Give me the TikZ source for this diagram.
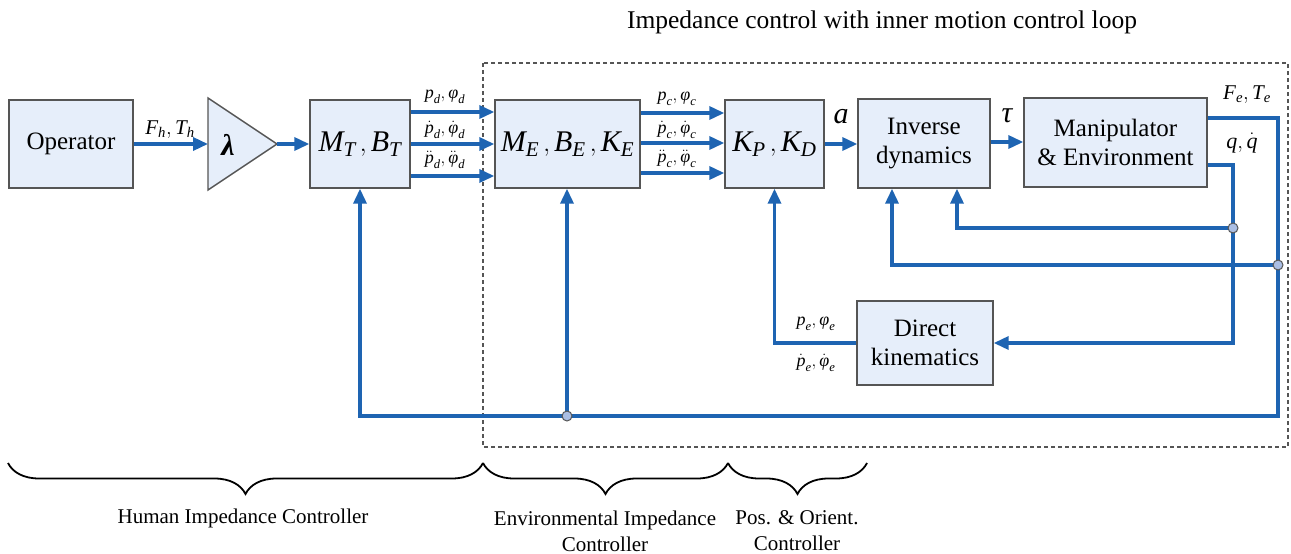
\documentclass[tikz,border=0pt]{standalone}
\usepackage{amsmath}
\usepackage{fontspec}
\setmainfont{Liberation Serif}
\setsansfont{Liberation Serif}
\newfontfamily\tnr{Liberation Serif}
\usetikzlibrary{arrows.meta,decorations.pathreplacing,calc}
\definecolor{wireblue}{RGB}{30,100,178}
\definecolor{boxfill}{RGB}{230,238,250}
\definecolor{boxline}{RGB}{85,85,85}
\definecolor{tapfill}{RGB}{170,190,228}
% italic letters taken from the text font inside math
\newcommand\mi[1]{\text{\tnr\itshape #1}}
\begin{document}
\begin{tikzpicture}[x=1pt,y=-1pt,
  blk/.style={draw=boxline,line width=1.4pt,fill=boxfill,inner sep=0pt,align=center,
    font=\tnr\fontsize{25}{29}\selectfont},
  fbl/.style={draw=wireblue,line width=3.4pt},
  flow/.style={fbl,-{Triangle[length=15pt,width=13pt]}},
  lbl/.style={inner sep=0pt,font=\tnr\fontsize{18}{22}\selectfont},
  big/.style={inner sep=0pt,font=\tnr\fontsize{30}{34}\selectfont},
  tap/.style={circle,draw=boxline,fill=tapfill,line width=1pt,minimum size=10pt,inner sep=0pt},
  brc/.style={draw=black,line width=1.8pt,decorate,decoration={brace,mirror,amplitude=31pt}},
  grouplbl/.style={inner sep=0pt,align=center,font=\tnr\fontsize{21}{26}\selectfont},
]
\useasboundingbox (0,0) rectangle (1291,554);

% title and the dashed frame of the impedance controller
\node[inner sep=0pt,font=\tnr\fontsize{25.5}{30}\selectfont] (title) at (882,22)
  {Impedance control with inner motion control loop};
\draw[draw=boxline,line width=1.5pt,dash pattern=on 4pt off 3pt] (483,63) rectangle (1288,447);

% blocks
\node[blk,minimum width=124pt,minimum height=88pt] (op) at (71,144) {Operator};
\draw[draw=boxline,line width=1.4pt,fill=boxfill] (208,98) -- (208,190) -- (277,144) -- cycle;
\coordinate (lamIn) at (208,144);
\coordinate (lamOut) at (277,144);
\node[big] (lam) at (228,145) {\bfseries\itshape λ};
\node[blk,minimum width=100pt,minimum height=88pt] (MT) at (360,144) {};
\node[big] (MTt) at (MT) {$\mi{M}_{\mi{T}}\,,\mi{B}_{\mi{T}}$};
\node[blk,minimum width=145pt,minimum height=88pt] (ME) at (567.5,144) {};
\node[big] (MEt) at (ME) {$\mi{M}_{\mi{E}}\,,\mi{B}_{\mi{E}}\,,\mi{K}_{\mi{E}}$};
\node[blk,minimum width=99pt,minimum height=88pt] (KP) at (774.5,144) {};
\node[big] (KPt) at (KP) {$\mi{K}_{\mi{P}}\,,\mi{K}_{\mi{D}}$};
\node[blk,minimum width=132pt,minimum height=89pt] (ID) at (924,143.5) {Inverse\\dynamics};
\node[blk,minimum width=183pt,minimum height=89pt] (MAN) at (1115.5,142.5) {Manipulator\\\& Environment};
\node[blk,minimum width=136pt,minimum height=84pt] (DK) at (925,343) {Direct\\kinematics};

% forward path
\draw[flow] (op.east) -- (lamIn);
\node[lbl,font=\tnr\fontsize{21}{25}\selectfont] (lFh) at (170,130) {$\mi{F}_{\mi{h}},\mi{T}_{\mi{h}}$};
\draw[flow] (lamOut) -- (MT.west);

\coordinate (r1) at (0,112);
\coordinate (r2) at (0,144);
\coordinate (r3) at (0,176);
\draw[flow] (MT.east |- r1) -- (ME.west |- r1);
\draw[flow] (MT.east |- r2) -- (ME.west |- r2);
\draw[flow] (MT.east |- r3) -- (ME.west |- r3);
\node[lbl] (ld1) at (445,97) {$\mi{p}_{\mi{d}},\mi{φ}_{\mi{d}}$};
\node[lbl] (ld2) at (445,130) {$\dot{\mi{p}}_{\mi{d}},\dot{\mi{φ}}_{\mi{d}}$};
\node[lbl] (ld3) at (445,160) {$\ddot{\mi{p}}_{\mi{d}},\ddot{\mi{φ}}_{\mi{d}}$};

\coordinate (s1) at (0,113);
\coordinate (s2) at (0,143);
\coordinate (s3) at (0,173);
\draw[flow] (ME.east |- s1) -- (KP.west |- s1);
\draw[flow] (ME.east |- s2) -- (KP.west |- s2);
\draw[flow] (ME.east |- s3) -- (KP.west |- s3);
\node[lbl] (lc1) at (677,99) {$\mi{p}_{\mi{c}},\mi{φ}_{\mi{c}}$};
\node[lbl] (lc2) at (677,130) {$\dot{\mi{p}}_{\mi{c}},\dot{\mi{φ}}_{\mi{c}}$};
\node[lbl] (lc3) at (677,159) {$\ddot{\mi{p}}_{\mi{c}},\ddot{\mi{φ}}_{\mi{c}}$};

\draw[flow] (KP.east) -- (ID.west |- KP.east);
\node[big] (la) at (841,117) {$\mi{a}$};
\coordinate (tq) at (0,142);
\draw[flow] (ID.east |- tq) -- (MAN.west |- tq);
\node[big] (ltau) at (1007,116) {$\mi{τ}$};

% feedback paths
\coordinate (fe) at (1278,118);
\coordinate (fb) at (1278,416);
\coordinate (J1) at (567,416);
\coordinate (J2) at (1278,265);
\coordinate (qc) at (1233,165);
\coordinate (qb) at (1233,343);
\coordinate (J3) at (1233,228);
\coordinate (id1) at (892,0);
\coordinate (id2) at (957,0);

\draw[flow] (MAN.east |- fe) -- (fe) -- (fb) -- (fb -| MT.south) -- (MT.south);
\draw[flow] (J1) -- (J1 |- ME.south);
\draw[flow] (J2) -- (J2 -| id1) -- (id1 |- ID.south);
\draw[flow] (MAN.east |- qc) -- (qc) -- (qb) -- (DK.east);
\draw[flow] (J3) -- (J3 -| id2) -- (id2 |- ID.south);
\draw[flow] (DK.west) -- (DK.west -| KP.south) -- (KP.south);

\node[lbl,font=\tnr\fontsize{21}{25}\selectfont] (lFe) at (1247,95) {$\mi{F}_{\mi{e}},\mi{T}_{\mi{e}}$};
\node[lbl,font=\tnr\fontsize{22}{26}\selectfont] (lq) at (1242,143) {$\mi{q},\dot{\mi{q}}$};
\node[lbl] (le1) at (816,324) {$\mi{p}_{\mi{e}},\mi{φ}_{\mi{e}}$};
\node[lbl] (le2) at (816,363) {$\dot{\mi{p}}_{\mi{e}},\dot{\mi{φ}}_{\mi{e}}$};

\node[tap] (t1) at (J1) {};
\node[tap] (t2) at (J2) {};
\node[tap] (t3) at (J3) {};

% controller groups
\draw[brc] (8,463) -- (483,463);
\draw[brc] (483,463) -- (728,463);
\draw[brc] (728,463) -- (867,463);
\node[grouplbl] (g1) at (243,518) {Human Impedance Controller};
\node[grouplbl] (g2) at (605,531) {Environmental Impedance\\Controller};
\node[grouplbl] (g3) at (797,531) {Pos. \& Orient.\\Controller};
\end{tikzpicture}
\end{document}
